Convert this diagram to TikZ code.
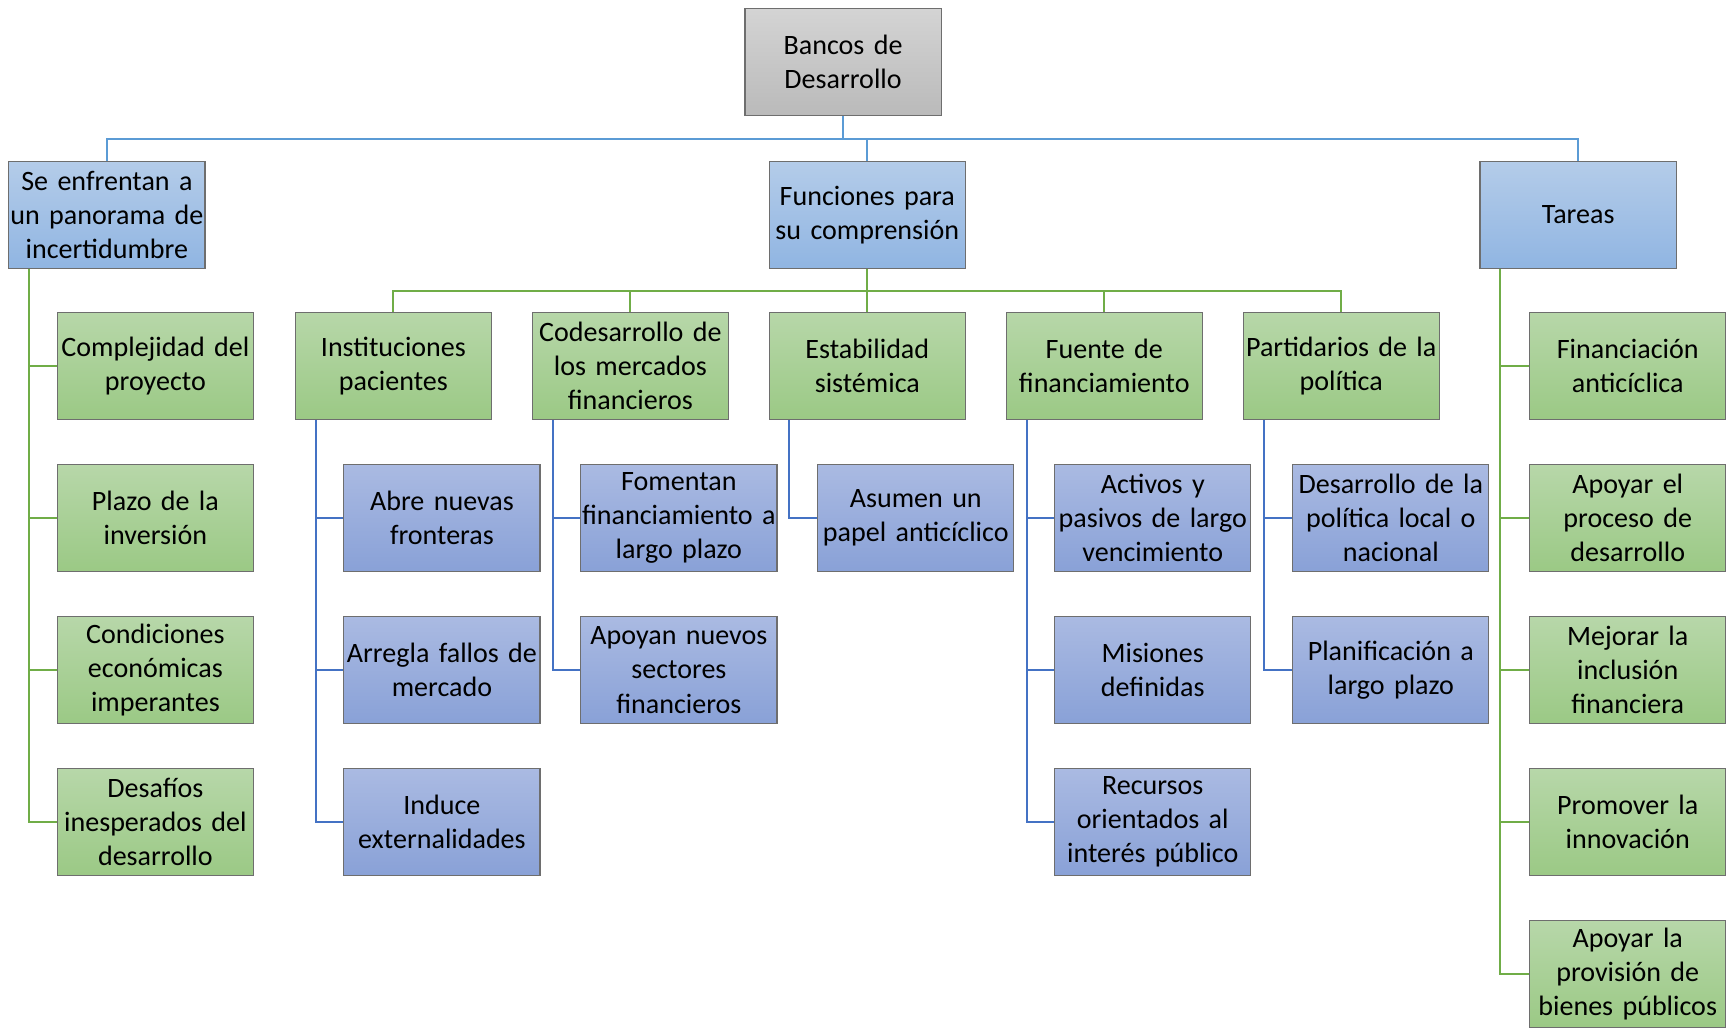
\documentclass[tikz,border=0pt]{standalone}
\usepackage{fontspec}
\setmainfont{Carlito}

\definecolor{rootTop}{HTML}{D4D4D4}
\definecolor{rootBot}{HTML}{BABABA}
\definecolor{mainTop}{HTML}{B4CCE9}
\definecolor{mainBot}{HTML}{90B5E2}
\definecolor{greenTop}{HTML}{B7D7A9}
\definecolor{greenBot}{HTML}{9BC985}
\definecolor{subTop}{HTML}{AABAE2}
\definecolor{subBot}{HTML}{89A1D7}
\definecolor{boxLine}{HTML}{6E6E6E}
\definecolor{lineTop}{HTML}{5B9BD5}
\definecolor{lineGreen}{HTML}{70AD47}
\definecolor{lineSub}{HTML}{4472C4}

\begin{document}
\begin{tikzpicture}[x=0.55pt,y=-0.55pt,
  box/.style={rectangle, draw=boxLine, line width=0.6pt, minimum width=97.9pt,
    minimum height=53.35pt, inner sep=0pt, text width=97pt, align=center,
    font=\fontsize{14}{17}\selectfont},
  rootbox/.style={box, top color=rootTop, bottom color=rootBot},
  mainbox/.style={box, top color=mainTop, bottom color=mainBot},
  greenbox/.style={box, top color=greenTop, bottom color=greenBot},
  subbox/.style={box, top color=subTop, bottom color=subBot},
  topline/.style={draw=lineTop, line width=1pt},
  greenline/.style={draw=lineGreen, line width=1pt},
  subline/.style={draw=lineSub, line width=1pt}]

 % frame
 \useasboundingbox (0,0) rectangle (1568,932);

 % root
 \node[rootbox] (root) at (765,56) {Bancos de\\Desarrollo};

 % level one
 \node[mainbox] (risk) at (97,195)   {Se enfrentan a\\un panorama de\\incertidumbre};
 \node[mainbox] (func) at (787,195)  {Funciones para\\su comprensión};
 \node[mainbox] (task) at (1432,195) {Tareas};

 % level two
 \node[greenbox] (inst) at (357,332)  {Instituciones\\pacientes};
 \node[greenbox] (code) at (572,332)  {Codesarrollo de\\los mercados\\financieros};
 \node[greenbox] (stab) at (787,332)  {Estabilidad\\sistémica};
 \node[greenbox] (fund) at (1002,332) {Fuente de\\financiamiento};
 \node[greenbox] (part) at (1217,332) {Partidarios de la\\política};

 % uncertainty column
 \node[greenbox] (r1) at (141,332) {Complejidad del\\proyecto};
 \node[greenbox] (r2) at (141,470) {Plazo de la\\inversión};
 \node[greenbox] (r3) at (141,608) {Condiciones\\económicas\\imperantes};
 \node[greenbox] (r4) at (141,746) {Desafíos\\inesperados del\\desarrollo};

 % tasks column
 \node[greenbox] (t1) at (1477,332) {Financiación\\anticíclica};
 \node[greenbox] (t2) at (1477,470) {Apoyar el\\proceso de\\desarrollo};
 \node[greenbox] (t3) at (1477,608) {Mejorar la\\inclusión\\financiera};
 \node[greenbox] (t4) at (1477,746) {Promover la\\innovación};
 \node[greenbox] (t5) at (1477,884) {Apoyar la\\provisión de\\bienes públicos};

 % level three
 \node[subbox] (i1) at (401,470)  {Abre nuevas\\fronteras};
 \node[subbox] (i2) at (401,608)  {Arregla fallos de\\mercado};
 \node[subbox] (i3) at (401,746)  {Induce\\externalidades};
 \node[subbox] (c1) at (616,470)  {Fomentan\\financiamiento a\\largo plazo};
 \node[subbox] (c2) at (616,608)  {Apoyan nuevos\\sectores\\financieros};
 \node[subbox] (s1) at (831,470)  {Asumen un\\papel anticíclico};
 \node[subbox] (f1) at (1046,470) {Activos y\\pasivos de largo\\vencimiento};
 \node[subbox] (f2) at (1046,608) {Misiones\\definidas};
 \node[subbox] (f3) at (1046,746) {Recursos\\orientados al\\interés público};
 \node[subbox] (p1) at (1262,470) {Desarrollo de la\\política local o\\nacional};
 \node[subbox] (p2) at (1262,608) {Planificación a\\largo plazo};

 % buses and spines
 \coordinate (bus)  at (765,126);
 \coordinate (gbus) at (787,264);
 \coordinate (rx) at (26,0);
 \coordinate (tx) at (1361,0);
 \coordinate (ix) at (287,0);
 \coordinate (cx) at (502,0);
 \coordinate (sx) at (716,0);
 \coordinate (fx) at (932,0);
 \coordinate (px) at (1147,0);

 % connectors from root
 \draw[topline] (root.south) -- (root.south |- bus);
 \draw[topline] (root.south |- bus) -| (risk.north);
 \draw[topline] (root.south |- bus) -| (func.north);
 \draw[topline] (root.south |- bus) -| (task.north);

 % connectors from functions
 \draw[greenline] (func.south) -- (func.south |- gbus);
 \draw[greenline] (func.south |- gbus) -| (inst.north);
 \draw[greenline] (func.south |- gbus) -| (code.north);
 \draw[greenline] (func.south |- gbus) -| (stab.north);
 \draw[greenline] (func.south |- gbus) -| (fund.north);
 \draw[greenline] (func.south |- gbus) -| (part.north);

 % connectors in the side columns
 \draw[greenline] (risk.south -| rx) |- (r1.west);
 \draw[greenline] (risk.south -| rx) |- (r2.west);
 \draw[greenline] (risk.south -| rx) |- (r3.west);
 \draw[greenline] (risk.south -| rx) |- (r4.west);
 \draw[greenline] (task.south -| tx) |- (t1.west);
 \draw[greenline] (task.south -| tx) |- (t2.west);
 \draw[greenline] (task.south -| tx) |- (t3.west);
 \draw[greenline] (task.south -| tx) |- (t4.west);
 \draw[greenline] (task.south -| tx) |- (t5.west);

 % connectors to level three
 \draw[subline] (inst.south -| ix) |- (i1.west);
 \draw[subline] (inst.south -| ix) |- (i2.west);
 \draw[subline] (inst.south -| ix) |- (i3.west);
 \draw[subline] (code.south -| cx) |- (c1.west);
 \draw[subline] (code.south -| cx) |- (c2.west);
 \draw[subline] (stab.south -| sx) |- (s1.west);
 \draw[subline] (fund.south -| fx) |- (f1.west);
 \draw[subline] (fund.south -| fx) |- (f2.west);
 \draw[subline] (fund.south -| fx) |- (f3.west);
 \draw[subline] (part.south -| px) |- (p1.west);
 \draw[subline] (part.south -| px) |- (p2.west);
\end{tikzpicture}
\end{document}
